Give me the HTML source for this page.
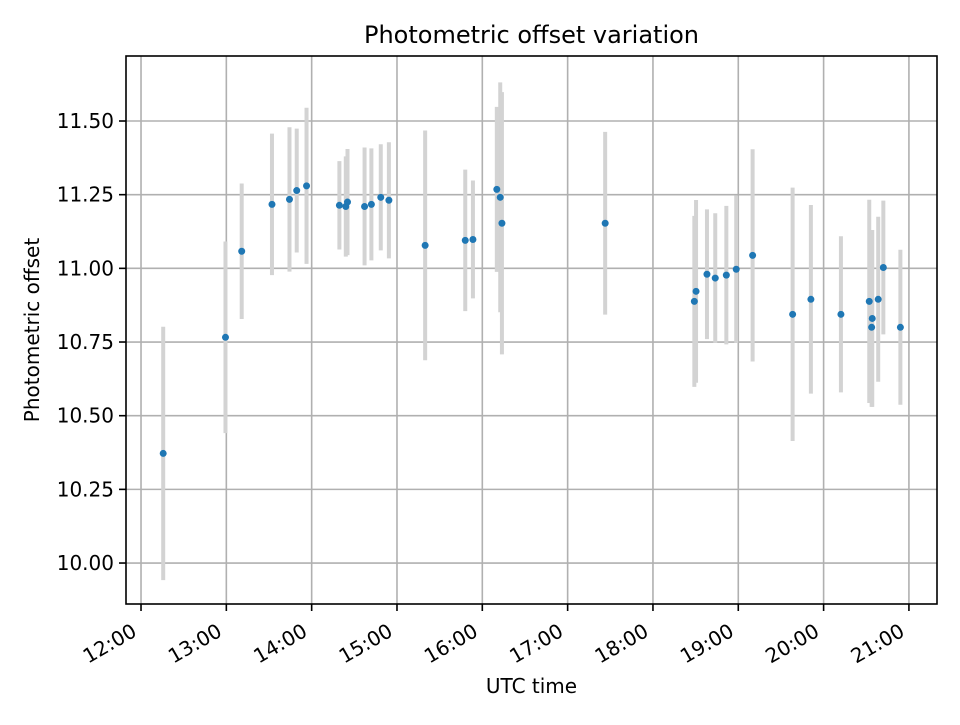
<!DOCTYPE html>
<html><head><meta charset="utf-8"><style>
body{margin:0;background:#fff}
svg text{font-family:"DejaVu Sans","Liberation Sans",sans-serif;fill:#000}
</style></head><body>
<svg id="chart" width="960" height="720" xmlns="http://www.w3.org/2000/svg">
<rect width="960" height="720" fill="#fff"/>
<g id="grid"></g><g id="bars"></g><g id="pts"></g><g id="axes"></g>
</svg>
<script>
const hours=[12.26,12.99,13.18,13.535,13.74,13.825,13.94,14.325,14.40,14.42,14.62,14.70,14.81,14.905,15.33,15.80,15.89,16.17,16.21,16.23,17.44,18.485,18.505,18.633,18.73,18.86,18.976,19.168,19.637,19.851,20.203,20.535,20.57,20.563,20.64,20.70,20.90];
const offsets=[10.372,10.766,11.058,11.217,11.234,11.264,11.28,11.214,11.21,11.225,11.21,11.217,11.241,11.231,11.078,11.095,11.098,11.268,11.241,11.153,11.153,10.888,10.922,10.98,10.967,10.977,10.997,11.044,10.844,10.895,10.844,10.888,10.83,10.80,10.895,11.003,10.80];
const errors=[0.43,0.325,0.23,0.24,0.245,0.21,0.265,0.15,0.17,0.18,0.2,0.19,0.18,0.197,0.39,0.24,0.2,0.28,0.39,0.445,0.31,0.29,0.31,0.22,0.22,0.235,0.25,0.36,0.43,0.32,0.265,0.345,0.30,0.27,0.28,0.227,0.263];
const xTickHours=[12,13,14,15,16,17,18,19,20,21];
const xTickLabels=["12:00","13:00","14:00","15:00","16:00","17:00","18:00","19:00","20:00","21:00"];
const yTicks=[10.00,10.25,10.50,10.75,11.00,11.25,11.50];
const yTickLabels=["10.00","10.25","10.50","10.75","11.00","11.25","11.50"];

const L=126,R=937,T=56,B=604;
const xMin=11.824,xMax=21.329,yMin=9.861,yMax=11.7206;
const xs=h=>L+(h-xMin)/(xMax-xMin)*(R-L);
const ys=v=>B-(v-yMin)/(yMax-yMin)*(B-T);
const NS="http://www.w3.org/2000/svg";
function mk(tag,attrs,parent){const e=document.createElementNS(NS,tag);for(const k in attrs)e.setAttribute(k,attrs[k]);parent.appendChild(e);return e;}
const grid=document.getElementById('grid'),bars=document.getElementById('bars'),pts=document.getElementById('pts'),axes=document.getElementById('axes');

xTickHours.forEach((h,i)=>{
  const x=xs(h);
  const g=mk('line',{x1:x,x2:x,y1:T,y2:B,stroke:'#b0b0b0','stroke-width':1.6},grid);
  
  
  const t=mk('line',{x1:x,x2:x,y1:B,y2:B+7,stroke:'#000','stroke-width':1.6},axes);
  
  
  const ax=x-3, ay=B+31;
  const lb=mk('text',{x:ax,y:ay,'font-size':20,'text-anchor':'end',transform:`rotate(-30 ${ax} ${ay})`},axes);
  lb.textContent=xTickLabels[i];
  
  
});
yTicks.forEach((v,i)=>{
  const y=ys(v);
  const g=mk('line',{x1:L,x2:R,y1:y,y2:y,stroke:'#b0b0b0','stroke-width':1.6},grid);
  
  
  const t=mk('line',{x1:L-7,x2:L,y1:y,y2:y,stroke:'#000','stroke-width':1.6},axes);
  
  
  const lb=mk('text',{x:L-12,y:y+7,'font-size':20,'text-anchor':'end'},axes);
  lb.textContent=yTickLabels[i];
  
  
});
hours.forEach((h,i)=>{
  const x=xs(h);
  const b=mk('line',{x1:x,x2:x,y1:ys(offsets[i]+errors[i]),y2:ys(offsets[i]-errors[i]),stroke:'#d3d3d3','stroke-width':4},bars);
  
  
});
hours.forEach((h,i)=>{
  const c=mk('circle',{cx:xs(h),cy:ys(offsets[i]),r:3.5,fill:'#1f77b4'},pts);
  
  
});
const frame=mk('rect',{x:L,y:T,width:R-L,height:B-T,fill:'none',stroke:'#000','stroke-width':1.6},axes);


const title=mk('text',{x:(L+R)/2,y:43,'font-size':24,'text-anchor':'middle'},axes);
title.textContent='Photometric offset variation';


const xl=mk('text',{x:(L+R)/2,y:693,'font-size':20,'text-anchor':'middle'},axes);
xl.textContent='UTC time';


const yl=mk('text',{x:39,y:(T+B)/2,'font-size':20,'text-anchor':'middle',transform:`rotate(-90 39 ${(T+B)/2})`},axes);
yl.textContent='Photometric offset';


</script>
</body></html>
